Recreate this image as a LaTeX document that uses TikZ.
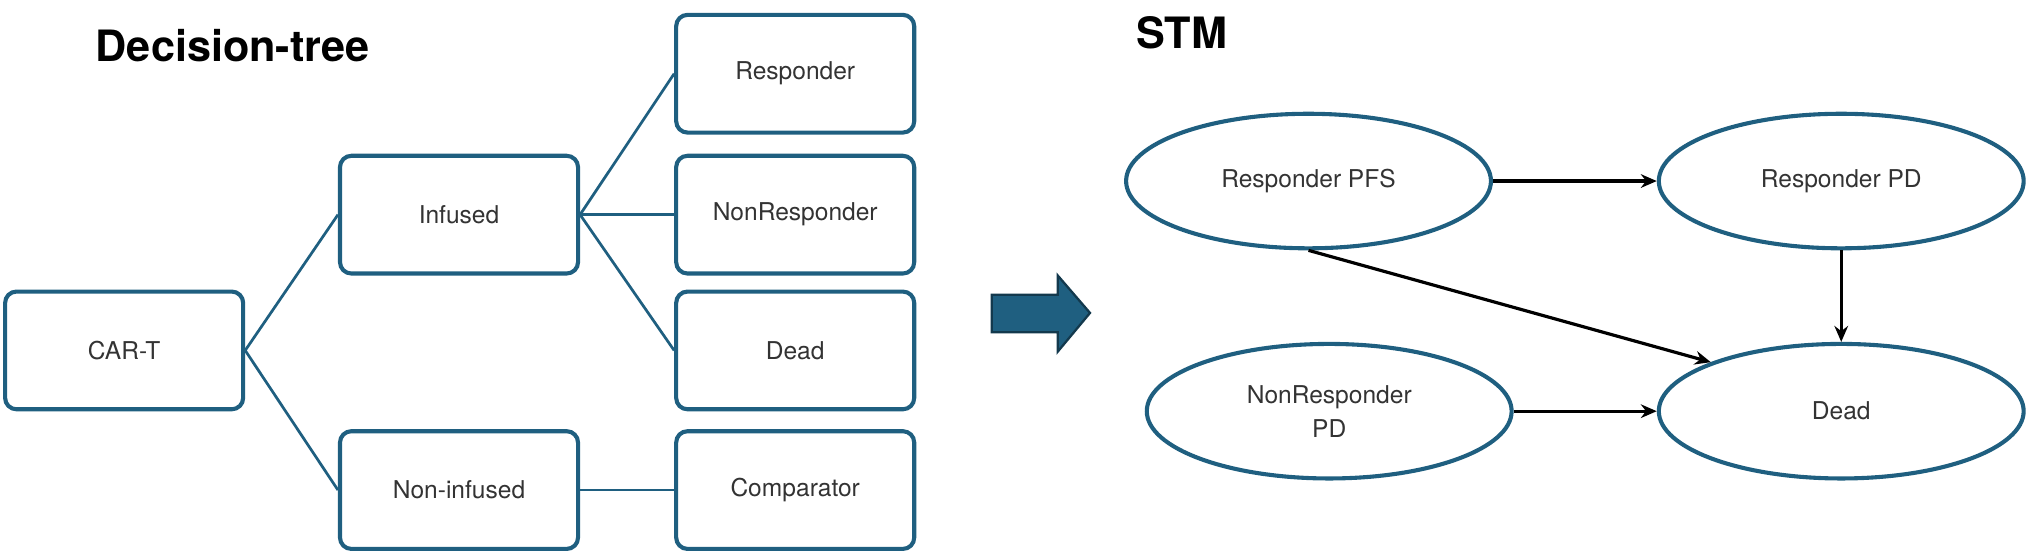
\documentclass[tikz,border=0pt]{standalone}
\usepackage{fontspec}
\setmainfont{TeX Gyre Heros}
\usetikzlibrary{positioning,shapes.geometric,arrows.meta}
\definecolor{boxblue}{HTML}{1F5F80}
\definecolor{txtgray}{HTML}{333333}
\tikzset{
  tbox/.style={draw=boxblue, line width=0.9pt, rounded corners=2.5pt, minimum width=1.84cm, minimum height=0.91cm, text=txtgray, font=\fontsize{5.4}{6.5}\selectfont},
  tline/.style={draw=boxblue, line width=0.6pt},
  state/.style={ellipse, draw=boxblue, line width=0.9pt, minimum width=2.82cm, minimum height=1.04cm, align=center, text=txtgray, font=\fontsize{5.4}{7.5}\selectfont},
  trans/.style={-{Stealth[length=3.5pt,width=3pt]}, line width=0.7pt, black},
  ttl/.style={font=\bfseries\fontsize{9.5}{11}\selectfont}
}
\begin{document}
\begin{tikzpicture}[x=0.01cm, y=-0.01cm]
  \useasboundingbox (0,0) rectangle (1570,429);
  % decision tree
  \node[ttl] (dt) at (180,35) {Decision-tree};
  \node[tbox] (cart) at (96,271) {CAR-T};
  \node[tbox] (inf) at (355,166) {Infused};
  \node[tbox] (ninf) at (355,379) {Non-infused};
  \node[tbox] (resp) at (615,57) {Responder};
  \node[tbox] (nresp) at (615,166) {NonResponder};
  \node[tbox] (dead) at (615,271) {Dead};
  \node[tbox] (comp) at (615,379) {Comparator};
  \draw[tline] (cart.east) -- (inf.west);
  \draw[tline] (cart.east) -- (ninf.west);
  \draw[tline] (inf.east) -- (resp.west);
  \draw[tline] (inf.east) -- (nresp.west);
  \draw[tline] (inf.east) -- (dead.west);
  \draw[tline] (ninf.east) -- (comp.west);
  % big arrow
  \fill[boxblue, draw=boxblue!60!black, line width=0.5pt] (767,228) -- (818,228) -- (818,213) -- (843,242) -- (818,272) -- (818,257) -- (767,257) -- cycle;
  % state transition model
  \node[ttl] (stm) at (914,25) {STM};
  \node[state] (rpfs) at (1012,140) {Responder PFS};
  \node[state] (rpd) at (1424,140) {Responder PD};
  \node[state] (nrpd) at (1028,318) {NonResponder\\PD};
  \node[state] (sdead) at (1424,318) {Dead};
  \draw[trans] (rpfs.south) -- (sdead.north west);
  \draw[trans] (rpfs) -- (rpd);
  \draw[trans] (rpd) -- (sdead);
  \draw[trans] (nrpd) -- (sdead);
\end{tikzpicture}
\end{document}
